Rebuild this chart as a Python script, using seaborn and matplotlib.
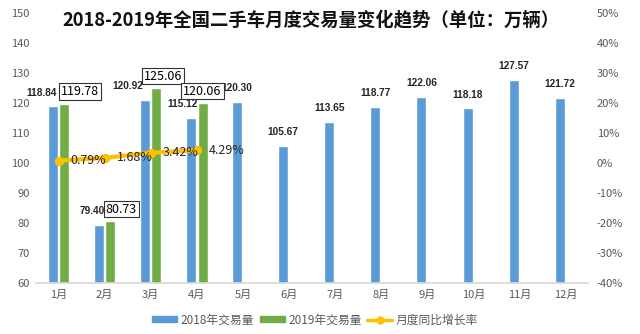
import matplotlib
matplotlib.use("Agg")
import matplotlib.pyplot as plt
import seaborn as sns
import pandas as pd
import numpy as np
from matplotlib.ticker import FuncFormatter
from matplotlib.patches import Patch
from matplotlib.lines import Line2D

months = ["1月", "2月", "3月", "4月", "5月", "6月", "7月", "8月", "9月", "10月", "11月", "12月"]
vol_2018 = [118.84, 79.40, 120.92, 115.12, 120.30, 105.67, 113.65, 118.77, 122.06, 118.18, 127.57, 121.72]
vol_2019 = [119.78, 80.73, 125.06, 120.06]
growth = [0.79, 1.68, 3.42, 4.29]

s2018 = "2018年交易量"
s2019 = "2019年交易量"
s_line = "月度同比增长率"

# label nudges (points) to mimic the hand-placed labels of the original
lab18_dx = [-8, -5, -12, -6, 0, 0, 0, 0, 0, 0, 0, 0]
lab19_dx = [11, 8, 5, 0]

sns.set_theme(style="white")
plt.rcParams["font.family"] = ["Noto Sans CJK SC", "DejaVu Sans"]

blue = "#5B9BD5"
green = "#70AD47"
gold = "#FFC000"
tick_col = "#595959"

rows = []
for i, m in enumerate(months):
    rows.append({"month": m, "series": s2018, "value": vol_2018[i]})
    rows.append({"month": m, "series": s2019, "value": vol_2019[i] if i < len(vol_2019) else np.nan})
df = pd.DataFrame(rows)

fig = plt.figure(figsize=(6.4, 3.34), dpi=100)
ax = fig.add_axes([35.5 / 640, 0.1527, 553 / 640, 0.8084])

sns.barplot(data=df, x="month", y="value", hue="series", order=months,
            hue_order=[s2018, s2019], palette=[blue, green], width=0.5, gap=0.13,
            ax=ax, legend=False, saturation=1)
ax.set_ylim(60, 150)
ax.set_xlim(-0.5, 11.5)
ax.set_yticks(np.arange(60, 151, 10))
ax.set_xlabel("")
ax.set_ylabel("")
for sp in ["top", "right", "left"]:
    ax.spines[sp].set_visible(False)
ax.spines["bottom"].set_color("#D9D9D9")
ax.tick_params(axis="both", colors=tick_col, labelsize=8, length=0)
ax.tick_params(axis="x", pad=5)
ax.tick_params(axis="y", pad=4)

# labels 2018 (centred over the blue bar)
for i, v in enumerate(vol_2018):
    ax.annotate(f"{v:.2f}", xy=(i - 0.125, v), xytext=(lab18_dx[i], 10),
                textcoords="offset points", ha="center", va="center", fontsize=7.3,
                color="#262626", fontweight="bold", family="Liberation Sans")
# labels 2019 boxed
for i, v in enumerate(vol_2019):
    ax.annotate(f"{v:.2f}", xy=(i + 0.125, v), xytext=(lab19_dx[i], 8.5),
                textcoords="offset points", ha="center", va="center", fontsize=9,
                color="#000000",
                bbox=dict(boxstyle="square,pad=0.15", fc="white", ec="#333333", lw=0.8))

ax2 = ax.twinx()
line_df = pd.DataFrame({"x": np.arange(len(growth)), "g": growth})
sns.lineplot(data=line_df, x="x", y="g", ax=ax2, color=gold, lw=3, marker="o",
             markersize=6, markeredgecolor=gold)
ax2.set_ylim(-40, 50)
ax2.set_yticks(np.arange(-40, 51, 10))
ax2.yaxis.set_major_formatter(FuncFormatter(lambda v, p: f"{int(v)}%"))
ax2.set_ylabel("")
ax2.set_xlabel("")
for sp in ["top", "right", "left", "bottom"]:
    ax2.spines[sp].set_visible(False)
ax2.tick_params(axis="y", colors=tick_col, labelsize=8, length=0, pad=6)
for i, g in enumerate(growth):
    ax2.annotate(f"{g:.2f}%", xy=(i, g), xytext=(8.5, 0), textcoords="offset points",
                 ha="left", va="center", fontsize=9, color="#262626")

fig.text(311 / 640, 1 - 20 / 334, "2018-2019年全国二手车月度交易量变化趋势（单位：万辆）",
         ha="center", va="center", fontsize=13.2, fontweight="bold", color="#111111")

handles = [Patch(color=blue), Patch(color=green),
           Line2D([0], [0], color=gold, lw=2.5, marker="o", markersize=5)]
fig.legend(handles, [s2018, s2019, s_line], loc="center",
           bbox_to_anchor=(315 / 640, 1 - 320 / 334),
           ncol=3, frameon=False, fontsize=8.5, labelcolor=tick_col, handlelength=2.1,
           handleheight=0.45, columnspacing=0.5, handletextpad=0.3)

fig.savefig("out.png", dpi=100)
